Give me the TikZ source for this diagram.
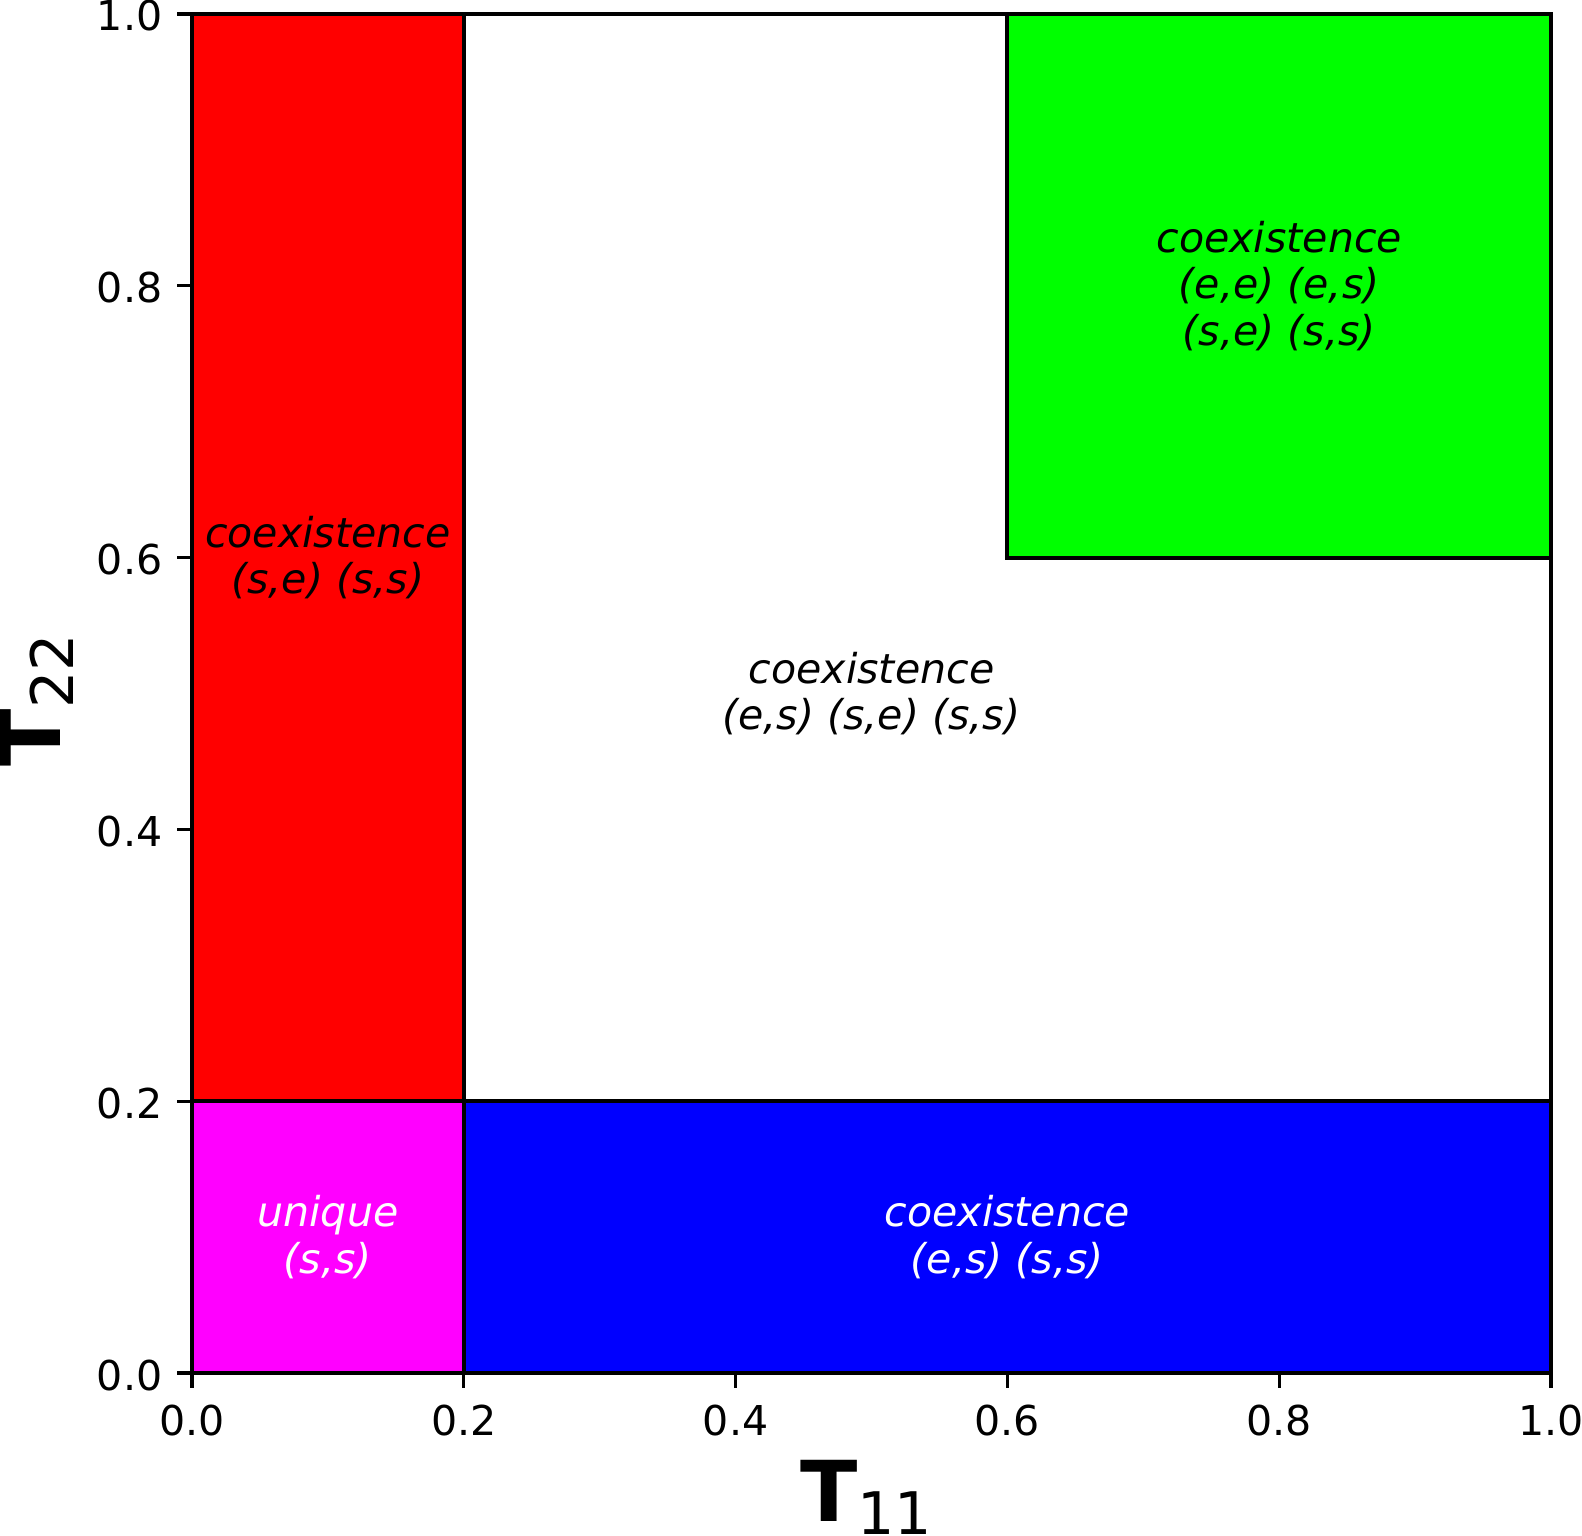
\documentclass[tikz,border=0pt]{standalone}
\usepackage{fontspec}
\setmainfont{DejaVu Sans}
\definecolor{regionred}{RGB}{255,0,0}
\definecolor{regionmagenta}{RGB}{255,0,255}
\definecolor{regionblue}{RGB}{0,0,255}
\definecolor{regiongreen}{RGB}{0,255,0}
\tikzset{ %line width = 1.1pt,
  {region/.style} ={draw=black,line width=1.1pt},
  {frame/.style} ={draw=black,line width=1.1pt},
  {tick/.style} ={draw=black,line width=0.9pt},
  {label text/.style} ={align=center,inner sep=0,
                font=\fontsize{11.7}{13.2}\selectfont\itshape},
  {tick label/.style} ={inner sep=0,font=\fontsize{11.7}{14}\selectfont},
  {axis label/.style} ={inner sep=0,anchor=base,
                font=\fontsize{23.9}{28}\selectfont},
}
\newcommand{\Tsub}[1]{{\bfseries T}\raisebox{-0.13cm}{\fontsize{16.7}{20}\selectfont #1}}

\begin{document}
\begin{tikzpicture}[x=13.59cm,y=13.59cm]
\useasboundingbox (-1.92cm,-1.62cm) rectangle (13.90cm,13.73cm);
% regions
\path[region,fill=regionred] (0,0.2) rectangle (0.2,1);
\path[region,fill=regionmagenta] (0,0) rectangle (0.2,0.2);
\path[region,fill=regionblue] (0.2,0) rectangle (1,0.2);
\path[region,fill=regiongreen] (0.6,0.6) rectangle (1,1);
\path[frame] (0,0) rectangle (1,1);
% ticks
\foreach \t [count=\i] in {0.0,0.2,0.4,0.6,0.8,1.0} {
  \path[tick] (\t,0) -- ++(0,-0.15cm);
  \path[tick] (0,\t) -- ++(-0.15cm,0);
  \node[tick label,anchor=base,yshift=-0.62cm] (xt\i) at (\t,0) {\t};
  \node[tick label,anchor=base east,xshift=-0.29cm,yshift=-0.17cm] (yt\i) at (0,\t) {\t};
}
% labels
\node[axis label] (T11) at (0.496,-0.1096) {\Tsub{11}};
\node[axis label,rotate=90] (T22) at (-0.0964,0.4952) {\Tsub{22}};
\node[label text] (R) at (0.1,0.6) {coexistence\\(s,e) (s,s)};
\node[label text] (W) at (0.5,0.5) {coexistence\\(e,s) (s,e) (s,s)};
\node[label text] (G) at (0.8,0.8) {coexistence\\(e,e) (e,s)\\(s,e) (s,s)};
\node[label text,white] (M) at (0.1,0.1) {unique\\(s,s)};
\node[label text,white] (B) at (0.6,0.1) {coexistence\\(e,s) (s,s)};
\end{tikzpicture}
\end{document}
